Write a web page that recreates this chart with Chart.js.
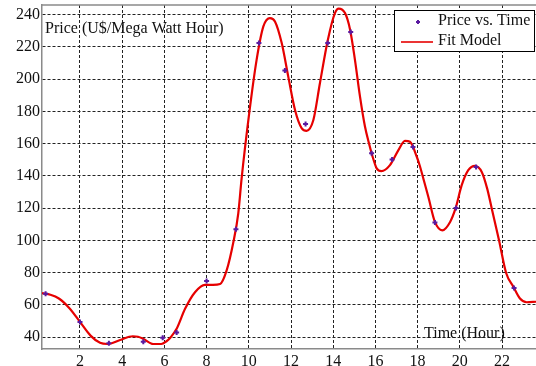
<!DOCTYPE html>
<html>
<head>
<meta charset="utf-8">
<script src="https://cdn.jsdelivr.net/npm/chart.js@4"></script>
<style>
  html, body { margin: 0; padding: 0; background: #fff; }
  canvas { display: block; }
</style>
</head>
<body>
<canvas id="c" width="536" height="366"></canvas>
<script>
// Observed hourly prices
const hours  = [0.37, 2, 3.37, 5, 5.92, 6.58, 8, 9.39, 10.48, 11.71, 12.69, 13.74, 14.83, 15.82, 16.79, 17.78, 18.82, 19.82, 20.77, 22.57];
const prices = [67, 49.5, 36.3, 37.2, 39.7, 43, 74.8, 107, 222.4, 205.4, 172.2, 222.4, 229.2, 154, 150.2, 158, 111.2, 120.2, 145.5, 70.6];

// Fitted model curve samples
const fitHours  = [0.2, 0.6, 1.0, 1.5, 2.0, 2.5, 2.95, 3.3, 3.9, 4.5, 4.75, 5.0, 5.47, 5.85, 6.1, 6.3, 6.58, 6.98, 7.45, 7.92, 8.3, 8.64, 8.95, 9.27, 9.5, 9.66, 10.02, 10.37, 10.69, 11.0, 11.24, 11.56, 11.87, 12.19, 12.51, 12.74, 13.06, 13.37, 13.74, 14.08, 14.26, 14.56, 14.8, 15.03, 15.27, 15.5, 15.7, 15.9, 16.06, 16.28, 16.69, 17.09, 17.4, 17.64, 17.96, 18.11, 18.3, 18.51, 18.82, 19.17, 19.54, 19.8, 20.09, 20.4, 20.72, 21.04, 21.3, 21.51, 21.86, 22.19, 22.54, 22.85, 23.17, 23.61];
const fitPrices = [67.3, 66.3, 64, 58, 49.5, 41, 36.5, 35.8, 38.3, 40.6, 40.3, 39, 35.8, 35.8, 37.5, 40, 45.2, 57.6, 67.9, 72.5, 72.5, 73, 81.4, 99, 116.7, 138.5, 178.9, 212, 232.7, 237.9, 235.8, 222.4, 201.6, 180.9, 169.5, 168, 174.7, 197.5, 224, 241, 243.8, 241, 230.7, 212, 189.2, 171, 160, 150.5, 144.7, 143, 146.7, 156, 161.8, 161.2, 151.9, 146, 137, 127, 111.5, 106.3, 111.5, 120, 134.3, 143.6, 146.3, 142.5, 132, 120, 100, 80, 71.2, 64, 61.7, 62];

// Axis ticks
const xTicks = [2, 4, 6, 8, 10, 12, 14, 16, 18, 20, 22];
const yTicks = [40, 60, 80, 100, 120, 140, 160, 180, 200, 220, 240];

const yTitle = 'Price (U$/Mega Watt Hour)';
const xTitle = 'Time (Hour)';
const seriesNames = ['Price vs. Time', 'Fit Model'];

const FONT = 'Liberation Serif, Times New Roman, serif';
const MARK = '#5a1aa0';
const RED = '#e60000';

const overlay = {
  id: 'overlay',
  afterDraw(chart) {
    const ctx = chart.ctx;
    const a = chart.chartArea;
    ctx.save();
    // top frame line
    ctx.strokeStyle = '#8a8a8a';
    ctx.lineWidth = 1.5;
    ctx.beginPath();
    ctx.moveTo(a.left, a.top);
    ctx.lineTo(a.right, a.top);
    ctx.stroke();

    // axis titles
    ctx.fillStyle = '#111';
    ctx.font = '16px ' + FONT;
    ctx.textBaseline = 'middle';
    ctx.textAlign = 'left';
    ctx.fillText(yTitle, a.left + 3, a.top + 24);
    ctx.fillText(xTitle, a.right - 112, a.bottom - 15);

    // legend box
    const bx = a.right - 142, by = a.top + 5, bw = 141, bh = 42;
    ctx.fillStyle = '#fff';
    ctx.fillRect(bx, by, bw, bh);
    ctx.strokeStyle = '#000';
    ctx.lineWidth = 1;
    ctx.strokeRect(bx + 0.5, by + 0.5, bw - 1, bh - 1);

    // marker entry
    ctx.strokeStyle = MARK;
    ctx.lineWidth = 2;
    const mx = bx + 24, my = by + 12;
    ctx.beginPath();
    ctx.moveTo(mx - 2, my); ctx.lineTo(mx + 2, my);
    ctx.moveTo(mx, my - 2); ctx.lineTo(mx, my + 2);
    ctx.stroke();
    // line entry
    ctx.strokeStyle = RED;
    ctx.lineWidth = 1.6;
    ctx.beginPath();
    ctx.moveTo(bx + 7, by + 32); ctx.lineTo(bx + 39, by + 32);
    ctx.stroke();

    ctx.fillStyle = '#111';
    ctx.fillText(seriesNames[0], bx + 44, by + 11);
    ctx.fillText(seriesNames[1], bx + 44, by + 31);
    ctx.restore();
  }
};

new Chart(document.getElementById('c'), {
  type: 'scatter',
  data: {
    datasets: [
      {
        label: seriesNames[1],
        data: fitHours.map((h, i) => ({ x: h, y: fitPrices[i] })),
        showLine: true,
        borderColor: RED,
        borderWidth: 2.2,
        pointRadius: 0,
        cubicInterpolationMode: 'monotone',
        order: 2
      },
      {
        label: seriesNames[0],
        data: hours.map((h, i) => ({ x: h, y: prices[i] })),
        showLine: false,
        pointStyle: 'cross',
        pointRadius: 2.5,
        borderWidth: 2,
        borderColor: MARK,
        backgroundColor: MARK,
        order: 1
      }
    ]
  },
  options: {
    responsive: false,
    animation: false,
    devicePixelRatio: 1,
    layout: { autoPadding: false, padding: { top: 5, right: 0, left: 0, bottom: 0 } },
    plugins: { legend: { display: false }, tooltip: { enabled: false } },
    scales: {
      x: {
        type: 'linear',
        min: 0.2,
        max: 23.61,
        afterBuildTicks: s => { s.ticks = xTicks.map(v => ({ value: v })); },
        afterFit: s => { s.height = 17; s.paddingLeft = 0; s.paddingRight = 0; },
        grid: { color: '#222', lineWidth: 1, drawTicks: false },
        border: { display: true, color: '#8a8a8a', width: 1.5, dash: [3, 2] },
        ticks: { color: '#111', font: { family: FONT, size: 16 }, padding: 3, maxRotation: 0 }
      },
      y: {
        type: 'linear',
        min: 32.7,
        max: 246,
        afterBuildTicks: s => { s.ticks = yTicks.map(v => ({ value: v })); },
        afterFit: s => { s.width = 42; s.paddingTop = 0; s.paddingBottom = 0; },
        grid: { color: '#222', lineWidth: 1, drawTicks: false },
        border: { display: true, color: '#8a8a8a', width: 1.5, dash: [3, 2] },
        ticks: { color: '#111', font: { family: FONT, size: 16 }, padding: 2 }
      }
    }
  },
  plugins: [overlay]
});
</script>
</body>
</html>
